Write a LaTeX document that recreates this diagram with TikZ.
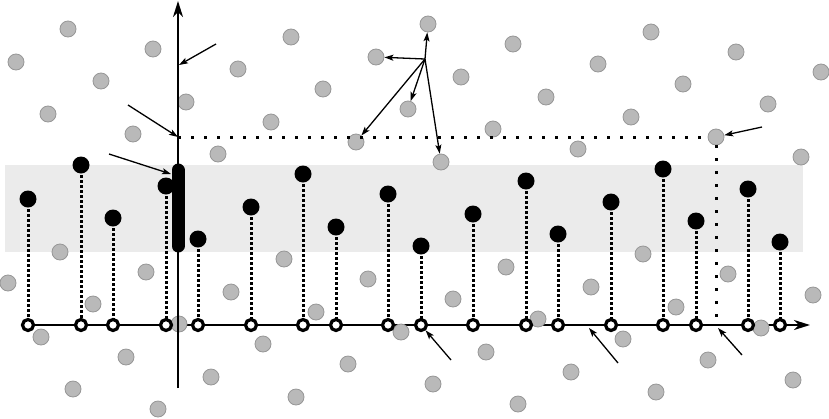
\documentclass[tikz,border=0pt]{standalone}
\usetikzlibrary{arrows.meta}

\definecolor{bandgray}{RGB}{235,235,235}
\definecolor{dotgray}{RGB}{185,185,185}
\definecolor{rimgray}{RGB}{150,150,150}

\tikzset{
  graydot/.style={circle,fill=dotgray,draw=rimgray,line width=0.8pt,minimum size=16pt,inner sep=0pt},
  blackdot/.style={circle,fill=black,minimum size=17pt,inner sep=0pt},
  opendot/.style={circle,fill=white,draw=black,line width=3.2pt,minimum size=11pt,inner sep=0pt},
  stem/.style={line width=3pt,dash pattern=on 2.7pt off 2.3pt},
  sparse/.style={line width=3pt,dash pattern=on 3pt off 10pt},
  pointer/.style={line width=1.3pt,-{Stealth[length=9pt,width=6pt,inset=2pt]}},
  axis/.style={line width=2pt,-{Stealth[length=16pt,width=10pt,inset=5pt]}}
}

\begin{document}
\begin{tikzpicture}[x=1pt,y=-1pt]
	\useasboundingbox (0,0) rectangle (829,418);

	% band
	\fill[bandgray] (5,165) rectangle (803,252);

	% open circles on the horizontal axis, black dots above them
	\foreach \x/\y [count=\i] in {28/199,81/165,113/218,166/186,198/239,251/207,303/174,336/227,388/194,421/246,473/214,526/181,558/234,611/202,663/169,696/221,748/189,780/242}{
		\coordinate (o\i) at (\x,325);
		\coordinate (b\i) at (\x,\y);
	}

	% horizontal axis
	\draw[axis] (o1) -- (810,325);

	% gray dots
	\foreach \x/\y in {68/29,16/62,153/49,101/81,238/69,186/102,48/114,271/122,133/134,218/154,
		291/37,513/44,323/89,461/77,546/97,493/129,
		651/32,736/52,821/72,598/64,683/84,768/104,631/117,578/149,801/157,
		60/252,8/283,146/272,93/304,41/337,179/324,231/292,126/357,263/344,73/389,211/377,158/409,284/259,
		368/279,316/312,401/332,453/299,506/267,538/319,486/352,348/364,433/384,296/397,518/404,
		643/254,591/287,728/274,676/307,813/295,761/328,623/339,708/360,571/372,793/380,656/392}
		\node[graydot] at (\x,\y) {};
	\node[graydot] (gtop) at (428,24) {};
	\node[graydot] (gleft) at (376,57) {};
	\node[graydot] (gmid) at (408,109) {};
	\node[graydot] (gcross) at (356,142) {};
	\node[graydot] (glow) at (441,162) {};
	\node[graydot] (gcorner) at (716,137) {};

	% vertical axis
	\draw[axis] (178,388) -- (178,1);

	% level lines
	\coordinate (ylev) at (178,137);
	\coordinate (xlev) at (716,325);
	\draw[sparse] (ylev) -- (gcorner.west);
	\draw[sparse] (gcorner.south) -- (xlev);

	% stems
	\foreach \i in {1,...,18}{
		\draw[stem] (b\i) -- (o\i);
		\node[blackdot] (bd\i) at (b\i) {};
		\node[opendot] (od\i) at (o\i) {};
	}

	% bar on the vertical axis
	\draw[line width=13pt,line cap=round] (178,170) -- (178,246);

	% pointers
	\coordinate (p1) at (216,44);
	\coordinate (t1) at (179,65);
	\coordinate (p2) at (128,105);
	\coordinate (p3) at (109,154);
	\coordinate (t3) at (171,174);
	\coordinate (p4) at (762,127);
	\coordinate (p5) at (451,360);
	\coordinate (p6) at (618,363);
	\coordinate (t6) at (589,328);
	\coordinate (p7) at (742,355);
	\coordinate (t7) at (718,328);
	\draw[pointer] (p1) -- (t1);
	\draw[pointer] (p2) -- (ylev);
	\draw[pointer] (p3) -- (t3);
	\draw[pointer] (p4) -- (gcorner);
	\draw[pointer] (p5) -- (od10);
	\draw[pointer] (p6) -- (t6);
	\draw[pointer] (p7) -- (t7);

	% fan
	\coordinate (src) at (425,59);
	\foreach \g in {gtop,gleft,gmid,gcross,glow}
		\draw[pointer] (src) -- (\g);
\end{tikzpicture}
\end{document}
